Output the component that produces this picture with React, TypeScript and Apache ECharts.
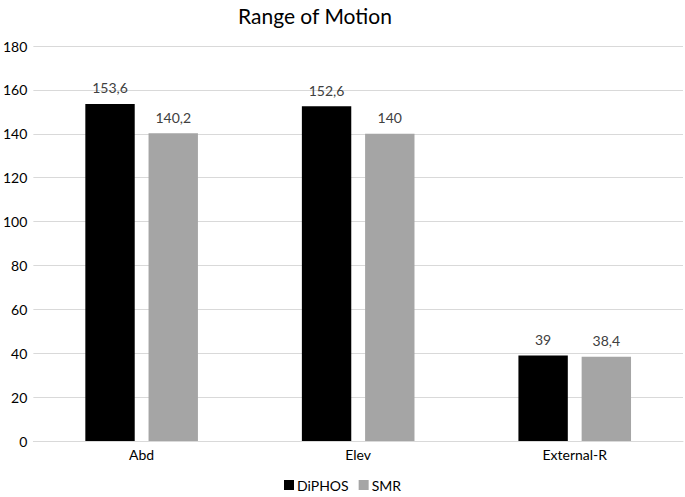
import React, { useEffect, useRef } from "react";
import * as echarts from "echarts";

const categories = ["Abd", "Elev", "External-R"];
const diphos = [153.6, 152.6, 39];
const smr = [140.2, 140, 38.4];
const seriesNames = ["DiPHOS", "SMR"];

const FONT = "Lato, 'Open Sans', sans-serif";
const fmt = (p: any) => String(p.value).replace(".", ",");

export default function App() {
  const ref = useRef<HTMLDivElement>(null);
  useEffect(() => {
    if (!ref.current) return;
    const chart = echarts.init(ref.current, undefined, { renderer: "svg" });
    chart.setOption({
      animation: false,
      title: {
        text: "Range of Motion",
        left: 233,
        top: 0,
        textStyle: { fontFamily: FONT, fontSize: 21, fontWeight: "normal", color: "#000" },
      },
      legend: {
        bottom: 0,
        left: "center",
        itemWidth: 10,
        itemHeight: 10,
        itemGap: 10,
        icon: "rect",
        textStyle: { fontFamily: FONT, fontSize: 14, color: "#000", padding: [0, 0, 0, -2] },
        data: seriesNames,
      },
      grid: { left: 29, right: 2, top: 46, bottom: 56 },
      xAxis: {
        type: "category",
        data: categories,
        axisTick: { show: false },
        axisLine: { lineStyle: { color: "#d9d9d9", width: 1 } },
        axisLabel: { fontFamily: FONT, fontSize: 14, color: "#000", margin: 6 },
      },
      yAxis: {
        type: "value",
        min: 0,
        max: 180,
        interval: 20,
        axisLine: { show: false },
        axisTick: { show: false },
        splitLine: { lineStyle: { color: "#d9d9d9", width: 1 } },
        axisLabel: { fontFamily: FONT, fontSize: 14, color: "#000", margin: 6 },
      },
      series: [
        {
          name: seriesNames[0],
          type: "bar",
          data: diphos,
          itemStyle: { color: "#000000" },
          barGap: "28%",
          barCategoryGap: "48%",
          label: { show: true, position: "top", distance: 9, formatter: fmt, fontFamily: FONT, fontSize: 14, color: "#404040" },
        },
        {
          name: seriesNames[1],
          type: "bar",
          data: smr,
          itemStyle: { color: "#a5a5a5" },
          label: { show: true, position: "top", distance: 9, formatter: fmt, fontFamily: FONT, fontSize: 14, color: "#404040" },
        },
      ],
    });
    return () => chart.dispose();
  }, []);
  return <div ref={ref} style={{ width: 685, height: 497, position: "absolute", left: 0, top: 0 }} />;
}
